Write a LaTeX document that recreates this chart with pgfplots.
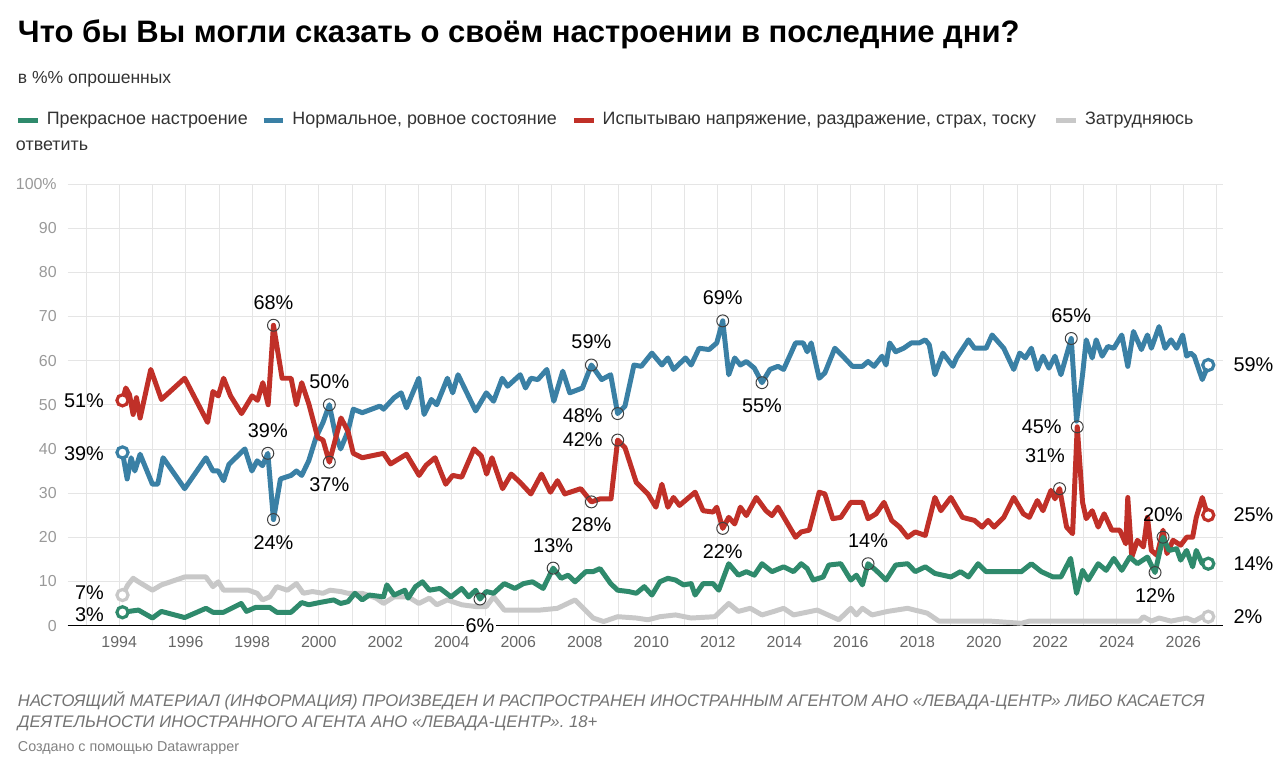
\documentclass[border=0pt]{standalone}
\usepackage{pgfplots}
\pgfplotsset{compat=1.18}
\usepackage{fontspec}
\setmainfont{Liberation Sans}
\definecolor{cg}{RGB}{47,138,108}
\definecolor{cb}{RGB}{58,128,165}
\definecolor{cr}{RGB}{192,48,40}
\definecolor{cy}{RGB}{200,200,200}
\definecolor{tx}{RGB}{51,51,51}
\pgfplotsset{ser/.style={line width=2.5pt,line join=round,no markers}}
\begin{document}
\begin{tikzpicture}
\begin{scope}[x=0.5pt,y=-0.5pt]
\path (0,0) rectangle (1280,780);
\node[anchor=west,font=\fontsize{15.6}{18}\selectfont\bfseries,text=black] at (11,35) {Что бы Вы могли сказать о своём настроении в последние дни?};
\node[anchor=west,font=\fontsize{8.8}{10}\selectfont,text=tx] at (11,80) {в \%\% опрошенных};
\begin{scope}[font=\fontsize{9}{10}\selectfont,text=tx]
\draw[cg,line width=2.5pt] (18,121)--(38,121); \node[anchor=west] at (40,121) {Прекрасное настроение};
\draw[cb,line width=2.5pt] (265,121)--(285,121); \node[anchor=west] at (287,121) {Нормальное, ровное состояние};
\draw[cr,line width=2.5pt] (577,121)--(597,121); \node[anchor=west] at (599,121) {Испытываю напряжение, раздражение, страх, тоску};
\draw[cy,line width=2.5pt] (1062,121)--(1082,121); \node[anchor=west] at (1084,121) {Затрудняюсь};
\node[anchor=west] at (9,147) {ответить};
\end{scope}
\node[anchor=west,font=\fontsize{8.4}{10}\selectfont\itshape,text=black!55] at (11,705) {НАСТОЯЩИЙ МАТЕРИАЛ (ИНФОРМАЦИЯ) ПРОИЗВЕДЕН И РАСПРОСТРАНЕН ИНОСТРАННЫМ АГЕНТОМ АНО «ЛЕВАДА-ЦЕНТР» ЛИБО КАСАЕТСЯ};
\node[anchor=west,font=\fontsize{8.4}{10}\selectfont\itshape,text=black!55] at (11,727) {ДЕЯТЕЛЬНОСТИ ИНОСТРАННОГО АГЕНТА АНО «ЛЕВАДА-ЦЕНТР». 18+};
\node[anchor=west,font=\fontsize{7.2}{9}\selectfont,text=black!50] at (11,752) {Создано с помощью Datawrapper};
\end{scope}
\begin{axis}[scale only axis, width=581pt, height=222pt, anchor=south west, at={(34pt,-314.5pt)},
 xmin=1992.45, xmax=2027.2, ymin=0, ymax=100, clip=false,
 axis line style={draw=none}, tick style={draw=none},
 xtick={1994,1996,...,2026}, minor xtick={1993,...,2027},
 ytick={0,10,...,100}, yticklabels={0,10,20,30,40,50,60,70,80,90,100\%},
 grid=both, major grid style={black!10}, minor grid style={black!10},
 /pgf/number format/1000 sep={}, /pgf/number format/assume math mode=true,
 xticklabel style={font=\fontsize{8}{10}\selectfont,text=black!60,yshift=-2pt},
 yticklabel style={font=\fontsize{8}{10}\selectfont,text=black!40,anchor=east,xshift=-2pt},
 every node/.append style={font=\fontsize{8}{10}\selectfont,text=tx}]
\draw[black,line width=0.8pt] (axis cs:1992.45,0)--(axis cs:2027.2,0);
% gray
\addplot[ser,cy] coordinates {(1994.10,6.9)(1994.26,9.2)(1994.42,10.7)(1994.58,9.9)(1995.00,8)(1995.27,9.2)(1995.97,11)(1996.61,11)(1996.82,8.8)(1996.98,9.9)(1997.14,8)(1997.46,8)(1997.89,8)(1998.15,7.3)(1998.31,5.8)(1998.53,6.5)(1998.74,8.8)(1999.06,8)(1999.33,9.5)(1999.54,7.3)(1999.81,7.7)(2000.13,7.3)(2000.34,8)(2000.66,7.7)(2000.88,7.3)(2001.31,7.3)(2001.73,6.2)(2001.95,5)(2002.27,6.5)(2002.69,6.5)(2003.01,5)(2003.33,6.2)(2003.55,4.7)(2003.87,5.8)(2004.30,4.7)(2004.72,4.3)(2005.04,4.3)(2005.26,6.5)(2005.58,3.5)(2006.00,3.5)(2006.65,3.5)(2007.18,3.9)(2007.71,5.8)(2008.25,1.7)(2008.57,0.9)(2008.99,2)(2009.55,1.7)(2009.90,1.3)(2010.26,2)(2010.73,2.4)(2011.20,1.7)(2011.91,2)(2012.33,5)(2012.62,3.2)(2012.98,3.9)(2013.33,2.4)(2013.69,3.2)(2013.98,3.9)(2014.28,2.4)(2014.99,3.5)(2015.64,1.3)(2016.00,3.9)(2016.17,2.4)(2016.35,3.9)(2016.64,2.4)(2017.11,3.2)(2017.71,3.9)(2018.30,2.8)(2018.65,1)(2020.19,1)(2021.13,0.5)(2021.37,1)(2024.68,1)(2024.80,2)(2025.04,1)(2025.27,1.7)(2025.63,1)(2026.10,1.7)(2026.33,1)(2026.57,2)(2026.75,2)};
% blue
\addplot[ser,cb] coordinates {(1994.10,39.2)(1994.24,33.2)(1994.36,38)(1994.47,35)(1994.63,38.8)(1995.00,32)(1995.16,32)(1995.32,38)(1995.97,31)(1996.61,38)(1996.82,35)(1996.98,35)(1997.14,32.8)(1997.30,36.5)(1997.78,40)(1997.99,35)(1998.15,37.3)(1998.31,36.2)(1998.47,39)(1998.64,24)(1998.85,33.2)(1999.17,34)(1999.33,35)(1999.49,34)(1999.70,37.3)(1999.92,42.6)(2000.13,46)(2000.32,50)(2000.50,43.3)(2000.66,40)(2000.88,44)(2001.04,49)(2001.31,48.2)(2001.84,49.7)(2001.95,49)(2002.27,51.6)(2002.48,52.7)(2002.64,49.3)(2003.01,56)(2003.17,47.8)(2003.39,51.2)(2003.55,50)(2003.87,56)(2004.03,52.7)(2004.19,56.8)(2004.72,48.6)(2005.04,52.7)(2005.26,50.8)(2005.52,56)(2005.68,54.2)(2006.06,56.8)(2006.22,53.8)(2006.38,56)(2006.59,55.7)(2006.86,58)(2007.07,50.8)(2007.34,57.6)(2007.55,52.7)(2007.93,53.8)(2008.20,59)(2008.51,55.7)(2008.78,56.8)(2008.99,48)(2009.21,49.7)(2009.48,59)(2009.70,58.7)(2010.02,61.7)(2010.32,59)(2010.50,60.6)(2010.67,58)(2011.03,60.6)(2011.20,59)(2011.44,62.8)(2011.74,62.5)(2011.97,64)(2012.15,69)(2012.33,56.8)(2012.51,60.6)(2012.68,59)(2012.86,59.8)(2013.10,58.3)(2013.33,55)(2013.57,58)(2013.81,58.7)(2013.98,58)(2014.34,64)(2014.57,64)(2014.69,62)(2014.81,64)(2015.05,56)(2015.22,57.2)(2015.52,62.8)(2015.76,61)(2016.05,58.7)(2016.35,58.7)(2016.52,59.8)(2016.70,58.7)(2016.94,61)(2017.06,59)(2017.17,64)(2017.35,62)(2017.59,62.8)(2017.82,64)(2018.06,64)(2018.24,64.7)(2018.36,63.6)(2018.53,56.8)(2018.77,61.7)(2019.07,58.7)(2019.18,60.6)(2019.54,64.7)(2019.72,62.8)(2020.07,62.8)(2020.25,65.8)(2020.60,62.8)(2020.90,58)(2021.08,61.7)(2021.25,60.6)(2021.43,62.8)(2021.61,58)(2021.78,61)(2021.96,58.3)(2022.14,61)(2022.32,56.8)(2022.63,65)(2022.79,46.3)(2022.97,56.8)(2023.08,64.7)(2023.26,60.6)(2023.38,64.7)(2023.56,61)(2023.73,63.2)(2023.91,62.8)(2024.15,65.8)(2024.33,58.7)(2024.50,66.6)(2024.74,62.5)(2024.92,65.8)(2025.04,62.8)(2025.27,67.7)(2025.45,62.8)(2025.63,64.7)(2025.80,62.8)(2025.98,65.8)(2026.10,61)(2026.22,61.7)(2026.33,61)(2026.57,55.7)(2026.75,59)};
% red
\addplot[ser,cr] coordinates {(1994.10,51)(1994.20,53.8)(1994.31,52.3)(1994.42,47.8)(1994.52,51.6)(1994.63,47)(1994.95,58)(1995.27,51.2)(1995.97,56)(1996.66,46)(1996.82,53)(1996.98,52)(1997.14,56)(1997.35,52)(1997.68,48)(1998.00,52)(1998.16,51)(1998.32,55)(1998.48,50)(1998.64,68)(1998.90,56)(1999.17,56)(1999.33,50)(1999.49,55)(1999.71,50)(1999.97,42.6)(2000.13,42)(2000.32,37)(2000.67,47)(2000.88,44)(2001.04,39)(2001.31,38)(2001.95,39)(2002.16,36.6)(2002.64,38.8)(2003.02,34)(2003.23,36.3)(2003.50,38)(2003.82,32)(2004.03,34)(2004.30,33.6)(2004.67,40)(2004.89,38.4)(2005.05,34.3)(2005.21,38)(2005.53,31)(2005.79,34.3)(2006.06,32.4)(2006.38,29.8)(2006.70,34.3)(2006.97,30.2)(2007.18,32.8)(2007.40,29.8)(2007.88,31)(2008.20,28)(2008.47,28.7)(2008.79,28.7)(2008.99,42)(2009.21,40.3)(2009.55,32.4)(2009.90,29.8)(2010.14,26.8)(2010.32,32)(2010.50,26.8)(2010.67,29)(2010.85,27.2)(2011.32,30.2)(2011.56,26)(2011.86,25.7)(2011.97,26.8)(2012.15,22)(2012.33,24.5)(2012.51,23)(2012.68,26.8)(2012.86,24.9)(2013.16,29)(2013.45,26)(2013.63,24.9)(2013.81,26.8)(2014.34,20)(2014.51,21.2)(2014.75,21.6)(2015.05,30.2)(2015.22,29.8)(2015.46,24.2)(2015.70,24.5)(2016.00,27.9)(2016.35,27.9)(2016.52,24.2)(2016.76,25.3)(2017.00,27.9)(2017.23,23.8)(2017.47,22.3)(2017.71,20)(2017.94,21.2)(2018.24,20.4)(2018.53,29)(2018.71,26)(2019.01,29)(2019.36,24.5)(2019.72,23.8)(2019.95,22.3)(2020.13,23.8)(2020.31,22.3)(2020.60,24.5)(2020.90,29)(2021.19,25.3)(2021.37,24.5)(2021.61,28.3)(2021.78,26)(2022.02,30.6)(2022.14,28.7)(2022.28,31)(2022.49,22.3)(2022.67,20.8)(2022.81,45)(2022.97,27.9)(2023.08,24.2)(2023.26,26)(2023.44,22.3)(2023.62,25.3)(2023.85,21.6)(2024.09,21.6)(2024.27,18.5)(2024.33,29)(2024.45,15.5)(2024.62,19.3)(2024.80,17.8)(2024.92,24.5)(2025.04,17)(2025.21,15.9)(2025.39,21.6)(2025.51,16.3)(2025.69,19.3)(2025.92,18.2)(2026.10,20)(2026.28,20)(2026.39,24.5)(2026.57,29)(2026.69,26)(2026.75,25)};
% green
\addplot[ser,cg] coordinates {(1994.10,3)(1994.58,3.5)(1995.00,1.7)(1995.27,3.2)(1995.97,1.8)(1996.61,3.9)(1996.82,3)(1997.14,3)(1997.67,5)(1997.83,3.2)(1998.10,4.1)(1998.53,4.1)(1998.74,3)(1999.17,3)(1999.49,5.2)(1999.70,4.7)(2000.02,5.2)(2000.45,5.8)(2000.66,5)(2000.88,5.4)(2001.09,7.3)(2001.31,5.8)(2001.52,6.9)(2001.95,6.5)(2002.05,9.2)(2002.27,6.9)(2002.59,8)(2002.69,6.2)(2002.91,8.8)(2003.12,9.9)(2003.33,8)(2003.65,8.4)(2003.98,6.5)(2004.30,8.4)(2004.51,6.5)(2004.72,8)(2004.85,6)(2005.04,7.7)(2005.26,7.3)(2005.58,9.5)(2005.90,8.4)(2006.16,9.5)(2006.43,9.9)(2006.75,8.4)(2007.05,13)(2007.29,10.7)(2007.50,11.4)(2007.71,9.9)(2008.03,12.2)(2008.25,12.2)(2008.46,12.9)(2008.78,9.5)(2008.99,8)(2009.32,7.7)(2009.55,7.3)(2009.79,8.8)(2010.02,6.9)(2010.26,9.9)(2010.50,10.7)(2010.73,10.3)(2010.97,9.2)(2011.20,9.5)(2011.32,6.9)(2011.56,9.5)(2011.86,9.5)(2012.03,8)(2012.33,14)(2012.62,11.4)(2012.86,12.2)(2013.10,11.4)(2013.33,14)(2013.63,12.2)(2013.98,13.3)(2014.28,12.2)(2014.51,14)(2014.69,12.9)(2014.87,10.3)(2015.17,11)(2015.34,13.7)(2015.70,14)(2016.00,10.3)(2016.17,11.4)(2016.35,9.2)(2016.52,14)(2016.76,12.5)(2017.06,10.3)(2017.35,13.7)(2017.71,14)(2017.94,12.2)(2018.24,13.3)(2018.53,11.8)(2019.01,11)(2019.30,12.2)(2019.54,11)(2019.83,14)(2020.07,12.2)(2021.13,12.2)(2021.43,14)(2021.73,12.2)(2022.08,11)(2022.32,11)(2022.61,15.2)(2022.79,7.3)(2022.97,12.5)(2023.14,10.3)(2023.44,14)(2023.68,12.5)(2023.91,15.2)(2024.15,12.5)(2024.39,15.5)(2024.62,14)(2024.92,15.5)(2025.15,12)(2025.39,20)(2025.57,17)(2025.80,17.4)(2025.92,14.8)(2026.10,17)(2026.28,13.3)(2026.39,17)(2026.57,14)(2026.75,14)};
% end markers
\addplot[draw=cy,fill=white,line width=1.6pt,only marks,mark=*,mark size=2.8pt] coordinates {(1994.10,6.9)(2026.75,2)};
\addplot[draw=cb,fill=white,line width=1.6pt,only marks,mark=*,mark size=2.8pt] coordinates {(1994.10,39.2)(2026.75,59)};
\addplot[draw=cr,fill=white,line width=1.6pt,only marks,mark=*,mark size=2.8pt] coordinates {(1994.10,51)(2026.75,25)};
\addplot[draw=cg,fill=white,line width=1.6pt,only marks,mark=*,mark size=2.8pt] coordinates {(1994.10,3)(2026.75,14)};
% annotation circles
\addplot[draw=black!75,line width=0.5pt,only marks,mark=o,mark size=3pt] coordinates {(1998.64,68)(1998.47,39)(1998.64,24)(2000.32,50)(2000.32,37)(2008.20,59)(2008.99,48)(2008.99,42)(2008.20,28)(2007.05,13)(2004.85,6)(2012.15,69)(2013.33,55)(2012.15,22)(2016.52,14)(2022.63,65)(2022.81,45)(2022.28,31)(2025.39,20)(2025.15,12)};
% labels
\node[anchor=east] at (axis cs:1993.75,51) {51\%};
\node[anchor=east] at (axis cs:1993.75,39) {39\%};
\node[anchor=east] at (axis cs:1993.75,7.5) {7\%};
\node[anchor=east] at (axis cs:1993.75,2.5) {3\%};
\node[anchor=south] at (axis cs:1998.64,70) {68\%};
\node[anchor=south] at (axis cs:1998.47,41) {39\%};
\node[anchor=north] at (axis cs:1998.64,22) {24\%};
\node[anchor=south] at (axis cs:2000.32,52) {50\%};
\node[anchor=north] at (axis cs:2000.32,35) {37\%};
\node[anchor=south] at (axis cs:2008.20,61) {59\%};
\node[anchor=east] at (axis cs:2008.75,47.5) {48\%};
\node[anchor=east] at (axis cs:2008.75,42) {42\%};
\node[anchor=north] at (axis cs:2008.20,26) {28\%};
\node[anchor=south] at (axis cs:2007.05,15) {13\%};
\node[anchor=north,fill=white,inner sep=1pt] at (axis cs:2004.85,2.2) {6\%};
\node[anchor=south] at (axis cs:2012.15,71) {69\%};
\node[anchor=north] at (axis cs:2013.33,53) {55\%};
\node[anchor=north] at (axis cs:2012.15,20) {22\%};
\node[anchor=south] at (axis cs:2016.52,16) {14\%};
\node[anchor=south] at (axis cs:2022.63,67) {65\%};
\node[anchor=east] at (axis cs:2022.55,45) {45\%};
\node[anchor=east] at (axis cs:2022.65,38.5) {31\%};
\node[anchor=south] at (axis cs:2025.39,22) {20\%};
\node[anchor=north] at (axis cs:2025.15,10) {12\%};
\node[anchor=west] at (axis cs:2027.3,59) {59\%};
\node[anchor=west] at (axis cs:2027.3,25) {25\%};
\node[anchor=west] at (axis cs:2027.3,14) {14\%};
\node[anchor=west] at (axis cs:2027.3,2) {2\%};
\end{axis}
\end{tikzpicture}
\end{document}
